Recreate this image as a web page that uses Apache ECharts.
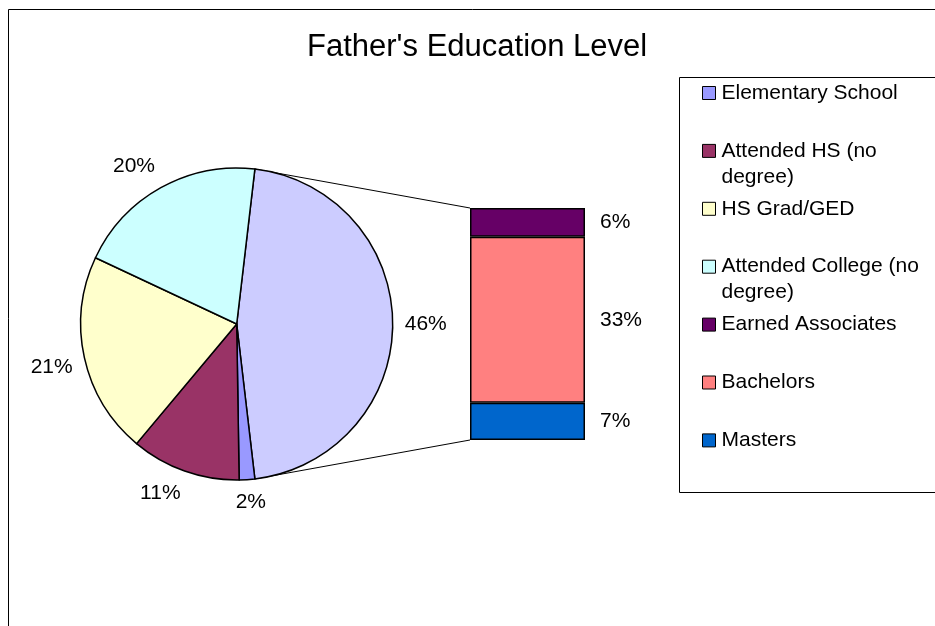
<!DOCTYPE html>
<html>
<head>
<meta charset="utf-8">
<script src="https://cdn.jsdelivr.net/npm/echarts@6/dist/echarts.min.js"></script>
<style>
html, body { margin: 0; padding: 0; background: #fff; }
#main { width: 935px; height: 626px; }
</style>
</head>
<body>
<div id="main"></div>
<script>
// pie slices (percent)
var pieNames = ['Elementary School', 'Attended HS (no degree)', 'HS Grad/GED', 'Attended College (no degree)'];
var pieValues = [1.6, 11.3, 20.8, 19.8];
var pieColors = ['#9999FF', '#993366', '#FFFFCC', '#CCFFFF'];
// split-out bar (the "other" slice)
var barNames = ['Earned Associates', 'Bachelors', 'Masters'];
var barValues = [5.7, 33.0, 7.4];
var barColors = ['#660066', '#FF8080', '#0066CC'];
var otherColor = '#CCCCFF';

var FONT = '"Liberation Sans", Arial, sans-serif';
var cx = 236.7, cy = 324, r = 156, labelR = 168;

var otherTotal = barValues.reduce(function (a, b) { return a + b; }, 0);
var total = otherTotal + pieValues.reduce(function (a, b) { return a + b; }, 0);
var otherDeg = otherTotal / total * 360;

var pieData = [{ name: 'Other', value: otherTotal, itemStyle: { color: otherColor } }];
pieNames.forEach(function (n, i) {
  pieData.push({ name: n, value: pieValues[i], itemStyle: { color: pieColors[i] } });
});

// mid angle of each slice, clockwise from 12 o'clock
var mids = [];
var acc = 90 - otherDeg / 2;
pieData.forEach(function (d) {
  var deg = d.value / total * 360;
  mids.push(acc + deg / 2);
  acc += deg;
});

var pct = function (p) { return Math.round(p.value) + '%'; };
var clamp = function (v) { return Math.max(-1, Math.min(1, v)); };

var series = [{
  type: 'pie',
  center: [cx, cy],
  radius: [0, r],
  startAngle: otherDeg / 2,
  clockwise: true,
  avoidLabelOverlap: false,
  silent: true,
  data: pieData,
  itemStyle: { borderColor: '#000', borderWidth: 1.5 },
  label: { show: true, position: 'outside', formatter: pct, fontSize: 21, color: '#000', fontFamily: FONT },
  labelLine: { show: false },
  // excel-like placement: box pushed outward from the rim along the slice bisector
  labelLayout: function (p) {
    var a = mids[p.dataIndex] * Math.PI / 180;
    var dx = Math.sin(a), dy = -Math.cos(a);
    var w = p.labelRect.width, h = p.labelRect.height;
    return {
      x: cx + labelR * dx + w / 2 * clamp(3 * dx),
      y: cy + labelR * dy + h / 2 * clamp(3 * dy),
      align: 'center',
      verticalAlign: 'middle'
    };
  }
}];

// stack bottom-up: Masters, Bachelors, Earned Associates
for (var i = barNames.length - 1; i >= 0; i--) {
  series.push({
    type: 'bar',
    name: barNames[i],
    stack: 'other',
    barWidth: '100%',
    silent: true,
    data: [barValues[i]],
    itemStyle: { color: barColors[i], borderColor: '#000', borderWidth: 1.5 },
    label: { show: true, position: 'right', distance: 15, formatter: pct, fontSize: 21, color: '#000', fontFamily: FONT }
  });
}

var legendNames = pieNames.concat(barNames);
var legends = legendNames.map(function (name, i) {
  var twoLine = name.indexOf('(no') >= 0;
  var c = 93 + i * 57.9;
  return {
    data: [name],
    left: 702,
    top: c - (twoLine ? 39 : 13),
    padding: 0,
    icon: 'rect',
    itemWidth: 13,
    itemHeight: 13,
    selectedMode: false,
    itemStyle: { borderColor: '#000', borderWidth: 1 },
    // leading blank line keeps the marker level with the first text line
    formatter: function (n) {
      return n.indexOf(' degree)') >= 0 ? ' \n' + n.replace(' degree)', '\ndegree)') : n;
    },
    textStyle: { fontSize: 21, lineHeight: 26, color: '#000', fontFamily: FONT, padding: [0, 0, 0, 1] }
  };
});

var chart = echarts.init(document.getElementById('main'));
chart.setOption({
  backgroundColor: '#fff',
  animation: false,
  title: {
    text: "Father's Education Level",
    left: 307,
    top: 29,
    padding: 0,
    textStyle: { fontSize: 31, fontWeight: 'normal', color: '#000', fontFamily: FONT, lineHeight: 36 }
  },
  legend: legends,
  grid: { left: 470, top: 208, width: 115, height: 232 },
  xAxis: { type: 'category', data: ['Other'], show: false },
  yAxis: { type: 'value', min: 0, max: otherTotal, show: false },
  series: series
});

// connector lines from the "other" slice to the bar corners
var a0 = (90 - otherDeg / 2) * Math.PI / 180;
var a1 = (90 + otherDeg / 2) * Math.PI / 180;
var yTop = chart.convertToPixel({ yAxisIndex: 0 }, otherTotal);
var yBot = chart.convertToPixel({ yAxisIndex: 0 }, 0);
var xLeft = 470;

chart.setOption({
  graphic: [
    { type: 'rect', shape: { x: 8.5, y: 9.5, width: 2000, height: 2000 }, style: { fill: 'none', stroke: '#000', lineWidth: 1 }, silent: true },
    { type: 'rect', shape: { x: 679.5, y: 77.5, width: 400, height: 415 }, style: { fill: 'none', stroke: '#000', lineWidth: 1 }, silent: true },
    { type: 'line', shape: { x1: cx + r * Math.sin(a0), y1: cy - r * Math.cos(a0), x2: xLeft, y2: yTop }, style: { stroke: '#000', lineWidth: 1 }, silent: true },
    { type: 'line', shape: { x1: cx + r * Math.sin(a1), y1: cy - r * Math.cos(a1), x2: xLeft, y2: yBot }, style: { stroke: '#000', lineWidth: 1 }, silent: true }
  ]
});
</script>
</body>
</html>
